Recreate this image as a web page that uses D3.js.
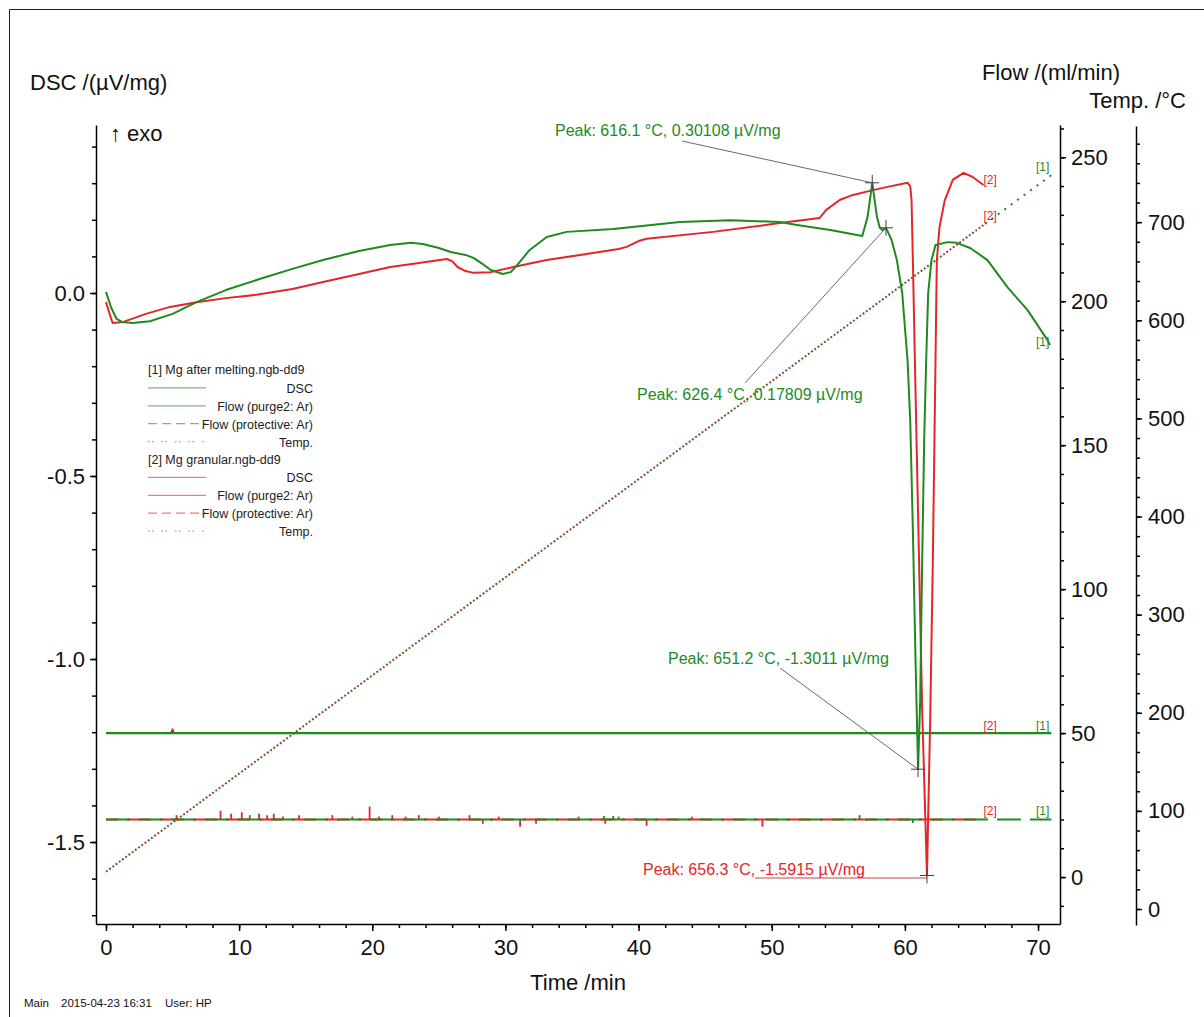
<!doctype html>
<html>
<head>
<meta charset="UTF-8">
<title>DSC Mg</title>
<script src="https://d3js.org/d3.v7.min.js"></script>
<style>
body{margin:0;background:#fff;}
svg{font-family:"Liberation Sans",Arial,sans-serif;}
.axis path,.axis line{stroke:#000;stroke-width:1.5;}
.axis text{font-size:22px;fill:#111;}
</style>
</head>
<body>
<svg id="chart" width="1204" height="1017"></svg>
<script>
// ---- data ----
const dscGreenTime = [0,0.4,0.8,1.2,2.0,3.3,5.0,6.8,9.0,11.35,14,16.3,19,21.35,22.9,23.8,25,25.9,27,27.6,28.3,28.9,29.8,30.4,30.9,31.8,33.1,34.6,38.1,43.1,46.9,50.6,51.9,54.4,56.8,57.2,57.55,57.9,58.1,58.3,58.58,59.0,59.4,59.8,60.0,60.2,60.4,60.6,60.8,60.99,61.15,61.3,61.45,61.6,61.75,62.0,62.3,63.2,63.9,64.9,66.2,67.7,69.2,70.7,70.9];
const dscGreen = [0.003,-0.041,-0.071,-0.079,-0.082,-0.077,-0.057,-0.025,0.008,0.036,0.066,0.090,0.115,0.131,0.137,0.134,0.123,0.112,0.104,0.096,0.079,0.063,0.052,0.057,0.077,0.117,0.153,0.167,0.175,0.194,0.199,0.194,0.186,0.172,0.156,0.208,0.30108,0.208,0.180,0.172,0.17809,0.145,0.090,0.0,-0.093,-0.183,-0.347,-0.648,-1.003,-1.3011,-1.112,-0.730,-0.402,-0.183,0.0,0.090,0.131,0.139,0.137,0.123,0.090,0.016,-0.046,-0.128,-0.142];

const dscRedTime = [0,0.3,0.5,1.3,3.0,4.8,6.8,9,11.3,14,16.3,19,21.35,23.5,25.6,26,26.4,27,27.6,28.9,30.6,33.1,35.6,38.5,39.1,40,40.6,45.6,50.6,53.6,54.1,55.1,56.1,57.6,58.7,60.2,60.4,60.5,60.6,60.75,61,61.3,61.66,61.9,62.1,62.3,62.4,62.6,63,63.6,64.4,65.1,65.9];
const dscRed = [-0.025,-0.060,-0.082,-0.079,-0.057,-0.038,-0.025,-0.014,-0.005,0.011,0.030,0.052,0.071,0.082,0.093,0.087,0.071,0.060,0.055,0.057,0.071,0.090,0.104,0.120,0.126,0.142,0.148,0.167,0.191,0.205,0.227,0.254,0.268,0.281,0.290,0.301,0.292,0.254,0.090,-0.183,-0.620,-1.139,-1.5915,-1.167,-0.730,-0.183,0.090,0.180,0.254,0.309,0.328,0.317,0.295];

// temperature ramps (straight lines), start / end
const tempGreenTime = [0, 71];
const tempGreen = [38, 748];
const tempRedTime = [0, 66];
const tempRed = [38, 698];

// flow
const purgeGreenTime = [0, 71];
const purgeGreen = [50, 50];
const purgeRedTime = [0, 4.9, 5.0, 5.1, 66];
const purgeRed = [50, 50, 51.3, 50, 50];
const protGreenTime = [0, 71];
const protGreen = [20, 20];
const protRedTime = [0, 66];
const protRed = [20, 20];
const protSpikeRedTime = [5.3,8.6,9.4,10.2,10.8,11.5,12.1,12.6,13.3,14.5,17.0,18.5,19.8,20.5,21.5,22.5,23.5,25.0,27.3,28.3,29.5,31.1,32.3,35.5,37.5,38.5,40.6,44.0,49.3];
const protSpikeRed = [21.5,23.0,22.0,22.5,21.5,22.0,21.5,22.0,21.0,21.5,21.5,21.0,24.5,21.0,21.5,21.0,21.5,21.0,21.5,18.5,21.0,17.5,18.5,21.0,18.5,21.0,17.8,21.0,17.5];
const protSpikeGreenTime = [37.4, 38.1, 56.6, 60.6];
const protSpikeGreen = [21.2, 21.2, 21.5, 18.8];

// peaks
const peakTime = [57.55, 58.58, 60.99, 61.66];
const peakValue = [0.30108, 0.17809, -1.3011, -1.5915];
const peakLabels = ["Peak: 616.1 °C, 0.30108 µV/mg","Peak: 626.4 °C, 0.17809 µV/mg","Peak: 651.2 °C, -1.3011 µV/mg","Peak: 656.3 °C, -1.5915 µV/mg"];

const timeTicks = [0,10,20,30,40,50,60,70];
const dscTicks = [-1.5,-1.0,-0.5,0.0];
const flowTicks = [0,50,100,150,200,250];
const tempTicks = [0,100,200,300,400,500,600,700];

// ---- drawing ----
const G = "#1f8a1f", R = "#e3262a";
const svg = d3.select("#chart");

svg.append("path").attr("d","M9.5,1017 V9.5 H1204")
  .attr("fill","none").attr("stroke","#222").attr("stroke-width",1);

const x = d3.scaleLinear().domain([-0.75, 71.65]).range([96, 1060]);
const yDsc = d3.scaleLinear().domain([-1.724, 0.459]).range([924, 125]);
const yFlow = d3.scaleLinear().domain([-16.3, 261.2]).range([924, 125]);
const yTemp = d3.scaleLinear().domain([-16.3, 798]).range([925, 126]);

function axis(g, ax){ g.attr("class","axis").call(ax); }
function minor(g, ax){ g.attr("class","axis").call(ax); g.select(".domain").remove(); }

// left DSC axis
svg.append("g").attr("transform","translate(96,0)")
  .call(axis, d3.axisLeft(yDsc).tickValues(dscTicks).tickSize(6).tickSizeOuter(0).tickPadding(5).tickFormat(d=>d.toFixed(1)));
svg.append("g").attr("transform","translate(96,0)")
  .call(minor, d3.axisLeft(yDsc).tickValues(d3.range(-17,5).map(d=>d/10)).tickSize(4).tickFormat(""));

// bottom time axis
svg.append("g").attr("transform","translate(0,924)")
  .call(axis, d3.axisBottom(x).tickValues(timeTicks).tickSize(7).tickSizeOuter(0).tickPadding(8));
svg.append("g").attr("transform","translate(0,924)")
  .call(minor, d3.axisBottom(x).tickValues(d3.range(0,72,2)).tickSize(4).tickFormat(""));

// flow axis
svg.append("g").attr("transform","translate(1060,0)")
  .call(axis, d3.axisRight(yFlow).tickValues(flowTicks).tickSize(6).tickSizeOuter(0).tickPadding(5));
svg.append("g").attr("transform","translate(1060,0)")
  .call(minor, d3.axisRight(yFlow).tickValues(d3.range(-10,261,10)).tickSize(4).tickFormat(""));

// temp axis
svg.append("g").attr("transform","translate(1136,0)")
  .call(axis, d3.axisRight(yTemp).tickValues(tempTicks).tickSize(6).tickSizeOuter(0).tickPadding(6));
svg.append("g").attr("transform","translate(1136,0)")
  .call(minor, d3.axisRight(yTemp).tickValues(d3.range(0,781,20)).tickSize(4).tickFormat(""));

// titles
const title = (t, px, py, anchor) => svg.append("text").attr("x",px).attr("y",py)
  .attr("text-anchor",anchor).style("font-size","22px").attr("fill","#111").text(t);
title("DSC /(µV/mg)", 30, 90, "start");
title("Flow /(ml/min)", 1120, 80, "end");
title("Temp. /°C", 1186, 108, "end");
title("↑ exo", 110, 141, "start");
title("Time /min", 578, 990, "middle");

const foot = (t, px) => svg.append("text").attr("x",px).attr("y",1007)
  .style("font-size","11.5px").attr("fill","#111").text(t);
foot("Main", 24); foot("2015-04-23 16:31", 61); foot("User: HP", 165);

// line helpers
const zip = (ts, vs) => ts.map((t,i)=>[t, vs[i]]);
function plot(ts, vs, yS, color, w, dash, offset){
  const line = d3.line().x(d=>x(d[0])).y(d=>yS(d[1]));
  const p = svg.append("path").datum(zip(ts,vs)).attr("d", line)
    .attr("fill","none").attr("stroke",color).attr("stroke-width",w)
    .attr("stroke-linejoin","round");
  if (dash) p.attr("stroke-dasharray", dash);
  if (offset) p.attr("stroke-dashoffset", offset);
  return p;
}
function spikes(ts, vs, base, color){
  svg.append("g").selectAll("line").data(zip(ts,vs)).join("line")
    .attr("x1",d=>x(d[0])).attr("x2",d=>x(d[0]))
    .attr("y1",yFlow(base)).attr("y2",d=>yFlow(d[1]))
    .attr("stroke",color).attr("stroke-width",1.8);
}

// flow lines
plot(purgeRedTime, purgeRed, yFlow, R, 2);
plot(purgeGreenTime, purgeGreen, yFlow, G, 2.2);
plot(protRedTime, protRed, yFlow, R, 2, "24,9", 12);
spikes(protSpikeRedTime, protSpikeRed, 20, R);
plot(protGreenTime, protGreen, yFlow, G, 2.2, "24,9");
spikes(protSpikeGreenTime, protSpikeGreen, 20, G);

// temperature ramps (dotted)
plot(tempRedTime, tempRed, yTemp, "#c0392b", 2, "2,6");
plot(tempGreenTime, tempGreen, yTemp, "#2b7a2b", 2, "2,6", 4);

// DSC curves
plot(dscRedTime, dscRed, yDsc, R, 2);
plot(dscGreenTime, dscGreen, yDsc, G, 2);

// curve end tags
const tag = (t, px, py, color) => svg.append("text").attr("x",px).attr("y",py)
  .attr("text-anchor","end").style("font-size","12px").attr("fill",color).text(t);
tag("[2]", x(66)+12, yDsc(dscRed[dscRed.length-1])-1, R);
tag("[1]", x(71)-2, yDsc(dscGreen[dscGreen.length-1])+1, G);
tag("[2]", x(66)+12, yTemp(tempRed[1])-4, R);
tag("[1]", x(71)-2, yTemp(tempGreen[1])-4, G);
tag("[2]", x(66)+12, yFlow(50)-3, R);
tag("[1]", x(71)-2, yFlow(50)-3, G);
tag("[2]", x(66)+12, yFlow(20)-4, R);
tag("[1]", x(71)-2, yFlow(20)-4, G);

// peak annotations (label positions are layout)
const peakLayout = [
  {tx:555, ty:136, lx:682, ly:141, color:G},
  {tx:637, ty:400, lx:745, ly:383, color:G},
  {tx:668, ty:664, lx:780, ly:668, color:G},
  {tx:643, ty:875, lx:755, ly:878, color:R}
];
peakTime.forEach((t,i)=>{
  const L = peakLayout[i], px = x(t), py = yDsc(peakValue[i]);
  svg.append("line").attr("x1",L.lx).attr("y1",L.ly).attr("x2",px).attr("y2",i===3?L.ly:py)
    .attr("stroke", i===3 ? "#b33" : "#4d5f4d").attr("stroke-width",0.9);
  svg.append("path").attr("d",`M${px-7},${py}H${px+7}M${px},${py-8}V${py+8}`)
    .attr("stroke","#444").attr("stroke-width",1);
  svg.append("text").attr("x",L.tx).attr("y",L.ty).style("font-size","16px")
    .attr("fill",L.color).text(peakLabels[i]);
});

// legend
const legendRows = [
  {text:"[1]  Mg after melting.ngb-dd9", head:true},
  {text:"DSC", color:G},
  {text:"Flow (purge2: Ar)", color:G},
  {text:"Flow (protective: Ar)", color:G, dash:"9,5"},
  {text:"Temp.", color:G, dash:"1.5,2.5,1.5,8"},
  {text:"[2] Mg granular.ngb-dd9", head:true},
  {text:"DSC", color:R},
  {text:"Flow (purge2: Ar)", color:R},
  {text:"Flow (protective: Ar)", color:R, dash:"9,5"},
  {text:"Temp.", color:R, dash:"1.5,2.5,1.5,8"}
];
const lg = svg.append("g").attr("transform","translate(148,370)");
legendRows.forEach((r,i)=>{
  const yy = i*17.9;
  if (r.head){
    lg.append("text").attr("x",0).attr("y",yy+4).style("font-size","12.5px").attr("fill","#222").text(r.text);
  } else {
    const ln = lg.append("line").attr("x1",0).attr("x2",58).attr("y1",yy).attr("y2",yy)
      .attr("stroke",r.color).attr("stroke-opacity",0.6).attr("stroke-width",1.3);
    if (r.dash) ln.attr("stroke-dasharray", r.dash);
    lg.append("text").attr("x",165).attr("y",yy+5).attr("text-anchor","end")
      .style("font-size","12.5px").attr("fill","#222").text(r.text);
  }
});
</script>
</body>
</html>
